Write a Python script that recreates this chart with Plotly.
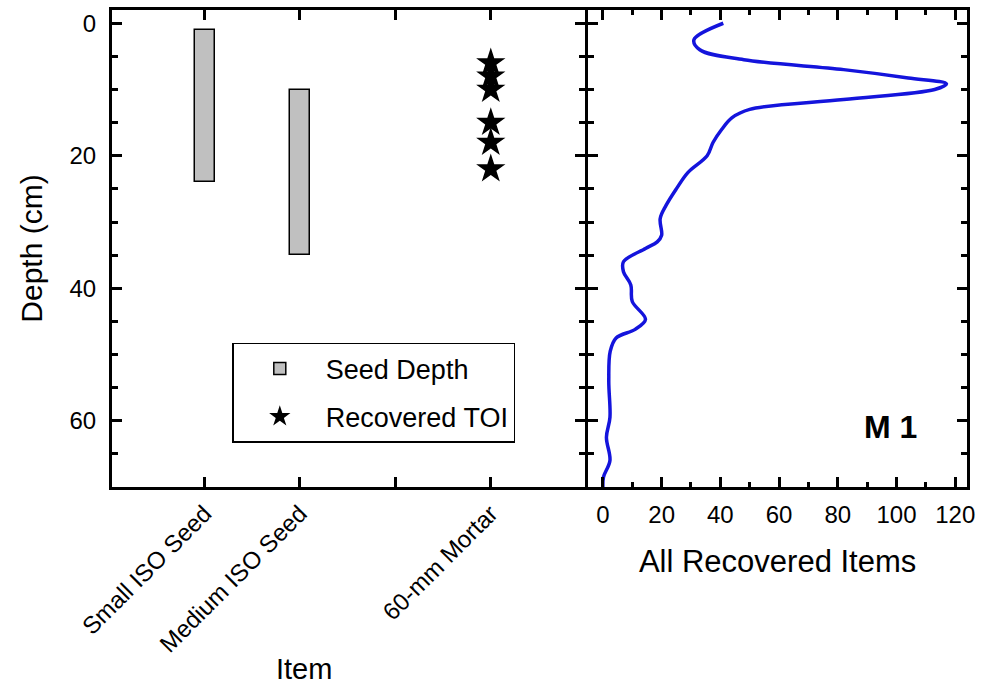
import plotly.graph_objects as go
from plotly.subplots import make_subplots

# left panel: seed depth ranges and recovered TOI depths
items = ["Small ISO Seed", "Medium ISO Seed", "", "60-mm Mortar"]
item_pos = [1, 2, 3, 4]
seed_pos = [1, 2]
seed_top = [1, 10]
seed_bottom = [24, 35]
toi_pos = [4, 4, 4, 4, 4, 4]
toi_depth = [6, 8, 10, 15, 18, 22]

# right panel: all recovered items vs depth
all_depth = [0, 2.5, 4.0, 5.5, 7.0, 8.25, 9.15, 10, 11.5, 13, 14.25, 16, 18, 20, 22.5, 25, 27.5, 29.5,
             32, 33, 34, 36, 37.5, 39.5, 42, 44.7, 46.2, 47.5, 49.5, 54, 59.5, 62.5, 66, 68.5, 70]
all_count = [41, 31, 33, 48, 82, 104, 117, 113, 82, 50, 44, 40.5, 37.5, 35.5, 29, 25, 21.5, 19.5,
             20, 18.5, 14.5, 7, 7, 9.5, 10, 14.5, 11, 4.5, 2.5, 2, 2.4, 1.2, 2.4, 0.2, 0]

FONT = "Liberation Sans, Arial, sans-serif"
split = 0.5535

fig = make_subplots(rows=1, cols=2, horizontal_spacing=0)

fig.add_trace(go.Bar(x=seed_pos, y=[b - t for t, b in zip(seed_top, seed_bottom)], base=seed_top,
                     width=0.21, name="Seed Depth", legendgroup="seed",
                     marker=dict(color="#c0c0c0", line=dict(color="black", width=1.5))),
              row=1, col=1)
fig.add_trace(go.Scatter(x=toi_pos, y=toi_depth, mode="markers", name="Recovered TOI", legendgroup="toi",
                         marker=dict(symbol="star", size=22, color="black")),
              row=1, col=1)
fig.add_trace(go.Scatter(x=all_count, y=all_depth, mode="lines", showlegend=False,
                         line=dict(color="#1414dc", width=3.5, shape="spline", smoothing=1.0)),
              row=1, col=2)

axis_common = dict(showline=True, linecolor="black", linewidth=3, mirror="ticks", ticks="inside",
                   tickcolor="black", tickwidth=3, showgrid=False, zeroline=False,
                   tickfont=dict(family=FONT, size=24, color="black"))

fig.update_xaxes(axis_common, row=1, col=1, domain=[0, split], range=[0.03, 4.99],
                 tickvals=item_pos, ticktext=items, tickangle=-45, ticklen=10)
fig.update_yaxes(axis_common, row=1, col=1, range=[70, -2], tick0=0, dtick=20, ticklen=10,
                 ticklabelstandoff=8,
                 minor=dict(ticks="inside", dtick=5, tick0=0, ticklen=6, tickwidth=3, tickcolor="black"),
                 title=dict(text="Depth (cm)", font=dict(family=FONT, size=30, color="black"), standoff=18))
fig.update_xaxes(axis_common, row=1, col=2, domain=[split + 3 / 860, 1], range=[-5, 124],
                 tick0=0, dtick=20, ticklen=10, ticklabelstandoff=4, ticklabeloverflow="allow",
                 minor=dict(ticks="inside", dtick=10, tick0=0, ticklen=5, tickwidth=3, tickcolor="black"),
                 title=dict(text="All Recovered Items", font=dict(family=FONT, size=31, color="black"),
                            standoff=24))
fig.update_yaxes(axis_common, row=1, col=2, range=[70, -2], tick0=0, dtick=20, ticklen=10,
                 showticklabels=False,
                 minor=dict(ticks="inside", dtick=5, tick0=0, ticklen=6, tickwidth=3, tickcolor="black"))

fig.add_annotation(text="Item", xref="paper", yref="paper", x=(305 - 112) / 860, y=-(670 - 487) / 480,
                   xanchor="center", yanchor="middle", showarrow=False,
                   font=dict(family=FONT, size=29, color="black"))
fig.add_annotation(text="<b>M 1</b>", xref="x2", yref="y2", x=98, y=61, showarrow=False,
                   font=dict(family=FONT, size=32, color="black"))

fig.update_layout(
    width=982, height=685,
    margin=dict(l=112, r=10, t=7, b=198),
    paper_bgcolor="white", plot_bgcolor="white",
    bargap=0,
    legend=dict(x=(233 - 112) / 860, y=(487 - 342) / 480, xanchor="left", yanchor="top",
                bordercolor="black", borderwidth=1.5, bgcolor="white",
                font=dict(family=FONT, size=27, color="black"), itemwidth=82,
                tracegroupgap=10),
)

fig.write_html("out.html", config={"displayModeBar": False},
               post_script="document.body.style.margin='0px';")
